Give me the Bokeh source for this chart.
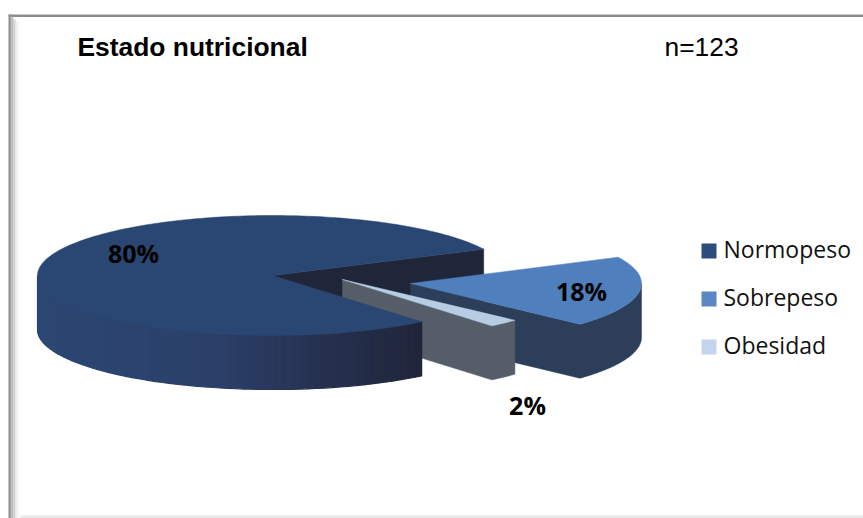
import numpy as np
from bokeh.embed import file_html
from bokeh.models import Range1d
from bokeh.plotting import figure
from bokeh.resources import INLINE
from bokeh.core.properties import value

# Data
categories = ["Normopeso", "Sobrepeso", "Obesidad"]
shares = [80, 18, 2]
share_labels = ["80%", "18%", "2%"]
legend_colors = ["#2c4d7c", "#5b87c5", "#c3d4ec"]

# Pie projection, in page pixels
RX, RY, DEPTH = 235, 60, 54
RX_SOBRE = 231
START_DEG = 26          # where the first small slice begins, above the horizontal
FRONT_STRETCH = 6.4     # perspective widening of the half nearest the viewer, degrees
CENTER = (272, 275)
CENTER_SOBRE = (410, 283)
CENTER_OBES = (342, 279)

TOP_MAIN = "#2a4672"
TOP_SOBRE = "#4f7fbc"
TOP_OBES = "#b8cce4"
WALL_INNER = "#20263a"
WALL_SOBRE = "#2c3e5a"
WALL_OBES = "#545d68"

p = figure(width=863, height=518, output_backend="svg", toolbar_location=None,
           x_range=Range1d(0, 863), y_range=Range1d(518, 0),
           min_border=0, outline_line_color=None, background_fill_color="white",
           border_fill_color="white")
p.axis.visible = False
p.grid.visible = False


def rim(center, a0, a1, rx=RX, ry=RY, n=90):
    a = np.radians(np.linspace(a0, a1, n))
    a = a + np.radians(FRONT_STRETCH) * np.minimum(np.sin(a), 0)
    return center[0] + rx * np.cos(a), center[1] - ry * np.sin(a)


def mix(c0, c1, t):
    c0 = np.array([int(c0[i:i + 2], 16) for i in (1, 3, 5)])
    c1 = np.array([int(c1[i:i + 2], 16) for i in (1, 3, 5)])
    r = np.round(c0 + (c1 - c0) * t).astype(int)
    return "#%02x%02x%02x" % tuple(r)


def fill(xs, ys, color):
    p.patch(list(xs), list(ys), fill_color=color, line_color=color, line_width=0.5)


def side_walls(center, xs, ys, color):
    # Cut wall and outer wall of an exploded slice, as one outline
    fill([center[0]] + list(xs) + list(xs[::-1]) + [center[0]],
         [center[1]] + list(ys) + list((ys + DEPTH)[::-1]) + [center[1] + DEPTH], color)


# Slice angles follow from the shares, going clockwise
sobre_a0 = START_DEG
sobre_a1 = sobre_a0 - shares[1] * 3.6
obes_a0 = sobre_a1
obes_a1 = obes_a0 - shares[2] * 3.6
main_a0 = obes_a1
main_a1 = main_a0 - shares[0] * 3.6

# Frame: top rule, bevelled left edge, faint bottom rule
p.quad(left=8, right=863, top=14, bottom=16.5, fill_color="#8c8c8c", line_color=None)
frame_steps = [(8, 9.5, "#8f8f8f"), (9.5, 11, "#a3a3a3"), (11, 13, "#b9b9b9"),
               (13, 15, "#d0d0d0"), (15, 17, "#ececec"), (17, 19, "#f8f8f8")]
for l, r, c in frame_steps:
    p.quad(left=l, right=r, top=14 + (l - 8), bottom=518, fill_color=c, line_color=None)
p.quad(left=20, right=863, top=515, bottom=518, fill_color="#e8e8e8", line_color=None)

# Back cut wall of the large slice
ex, ey = rim(CENTER, main_a1, main_a1, n=1)
fill([CENTER[0], ex[0], ex[0], CENTER[0]],
     [CENTER[1], ey[0], ey[0] + DEPTH, CENTER[1] + DEPTH], WALL_INNER)

# Sobrepeso: walls, then top
sx, sy = rim(CENTER_SOBRE, sobre_a1, 0, RX_SOBRE)
side_walls(CENTER_SOBRE, sx, sy, WALL_SOBRE)
sx, sy = rim(CENTER_SOBRE, sobre_a0, sobre_a1, RX_SOBRE)
fill([CENTER_SOBRE[0]] + list(sx), [CENTER_SOBRE[1]] + list(sy), TOP_SOBRE)

# Obesidad: walls, then top
bx, by = rim(CENTER_OBES, obes_a1, obes_a0, n=12)
side_walls(CENTER_OBES, bx, by, WALL_OBES)
fill([CENTER_OBES[0]] + list(bx), [CENTER_OBES[1]] + list(by), TOP_OBES)

# Normopeso: shaded outer wall drawn strip by strip, then the top face
mx, my = rim(CENTER, -180, main_a0, n=70)
stops = [(0.0, "#2b4772"), (0.45, "#2b4069"), (0.75, "#26304f"), (1.0, "#1f2538")]
for i in range(len(mx) - 1):
    t = (mx[i] - mx[0]) / (mx[-1] - mx[0])
    for (t0, c0), (t1, c1) in zip(stops, stops[1:]):
        if t0 <= t <= t1:
            col = mix(c0, c1, (t - t0) / (t1 - t0))
            break
    xs = [mx[i], mx[i + 1], mx[i + 1], mx[i]]
    ys = [my[i], my[i + 1], my[i + 1] + DEPTH, my[i] + DEPTH]
    p.patch(xs, ys, fill_color=col, line_color=col, line_width=1.2)
tx, ty = rim(CENTER, main_a0, main_a1, n=240)
fill([CENTER[0]] + list(tx), [CENTER[1]] + list(ty), TOP_MAIN)

# Value labels
p.text(x=[133, 581, 527], y=[252, 290, 404], text=share_labels,
       text_font=value("Open Sans"), text_font_style="bold", text_font_size="25px",
       text_color="#000000", text_align="center", text_baseline="middle")

# Titles
p.text(x=[77], y=[46], text=["Estado nutricional"], text_font=value("Liberation Sans"),
       text_font_style="bold", text_font_size="26.4px", text_color="#000000",
       text_align="left", text_baseline="middle")
p.text(x=[664], y=[46], text=["n=123"], text_font=value("Liberation Sans"),
       text_font_size="26.4px", text_color="#000000", text_align="left", text_baseline="middle")

# Legend
for i, (name, col) in enumerate(zip(categories, legend_colors)):
    y0 = 243 + 48 * i
    p.quad(left=701, right=716, top=y0, bottom=y0 + 15, fill_color=col, line_color=None)
    p.text(x=[723], y=[y0 + 5], text=[name], text_font=value("Open Sans"),
           text_font_size="23px", text_color="#111111", text_align="left", text_baseline="middle")

open("out.html", "w").write(file_html(p, INLINE))
